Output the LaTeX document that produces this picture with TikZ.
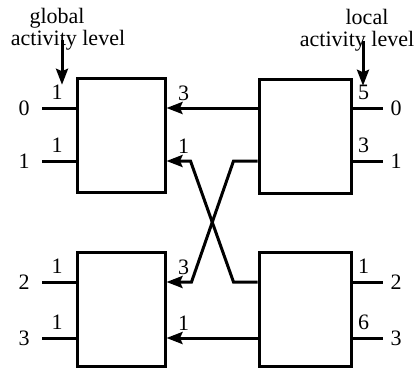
\documentclass[tikz,border=0pt]{standalone}
\usepackage{fontspec}
\setmainfont{Liberation Serif}
\usetikzlibrary{arrows.meta}

\begin{document}
\begin{tikzpicture}[x=1pt,y=-1pt,line width=3pt,font=\fontsize{22}{24}\selectfont,
    proc/.style={draw,minimum width=#1,minimum height=114pt,inner sep=0pt},
    lvl/.style={inner sep=0pt},
    feed/.style={-{Stealth[length=16pt,width=12pt,inset=2.5pt]}}]
    \useasboundingbox (0,0) rectangle (415,368);
    % processors: A,C hold the global level, B,D the local one
    \foreach \p/\x/\y/\w in {A/121/135/88, B/305/136/92, C/121/309/88, D/305/309/92} {
        \node[proc=\w pt](\p) at (\x,\y) {};
    }
    % rows of the switch
    \foreach \y/\l/\r/\g/\a/\b [count=\n from 0] in {108/A/B/1/3/5, 161/A/B/1/1/3, 282/C/D/1/3/1, 338/C/D/1/1/6} {
        \coordinate (i\n) at (42,\y);
        \coordinate (o\n) at (383,\y);
        \draw (i\n) -- (i\n -| \l.west);
        \draw (\r.east |- o\n) -- (o\n);
        \node[lvl,anchor=east,xshift=-11pt] at (i\n) {\n};
        \node[lvl,anchor=west,xshift=6pt] at (o\n) {\n};
        \node[lvl,xshift=15pt,yshift=16pt] at (i\n) {\g};
        \node[lvl,xshift=17pt,yshift=15pt] at (i\n -| \l.east) {\a};
        \node[lvl,xshift=11pt,yshift=16pt] at (i\n -| \r.east) {\b};
    }
    \draw[feed] (i0 -| B.west) -- (i0 -| A.east);
    \draw[feed] (i3 -| D.west) -- (i3 -| C.east);
    % crossed links
    \draw[feed] (i1 -| B.west) -- ++(-24,0) -- ++(-42,121) -- (i2 -| C.east);
    \draw[feed] (i2 -| D.west) -- ++(-24,0) -- ++(-43,-121) -- (i1 -| A.east);
    % captions
    \node[lvl,anchor=base] (glob) at (57,23) {global};
    \node[lvl,anchor=base] (gact) at (68,45) {activity level};
    \node[lvl,anchor=base] (loc) at (367,24) {local};
    \node[lvl,anchor=base] (lact) at (357,46) {activity level};
    \draw[feed] ([xshift=-6pt]gact.center) -- ++(0,45);
    \draw[feed] ([xshift=6pt]lact.center) -- ++(0,45);
\end{tikzpicture}
\end{document}
